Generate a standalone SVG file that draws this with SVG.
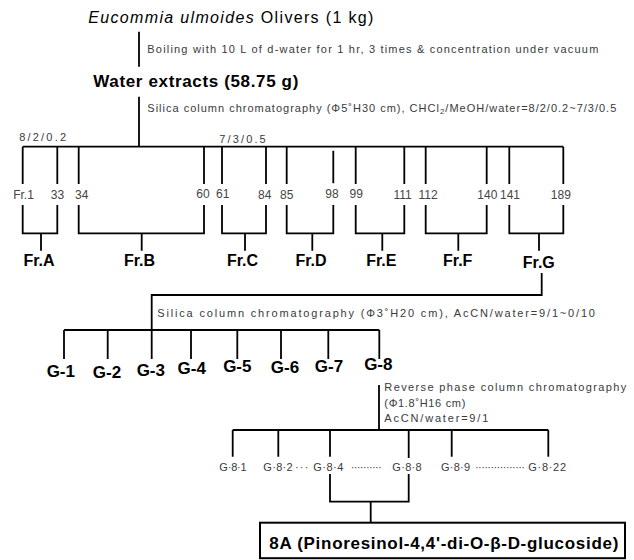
<svg xmlns="http://www.w3.org/2000/svg" width="634" height="560" viewBox="0 0 634 560">
<style>
.ln{fill:none;stroke:#000;stroke-width:1.8;stroke-linecap:butt}
.sm{font-family:"Liberation Sans",Arial,sans-serif;font-size:11px;fill:#3a3a3a}
.num{font-family:"Liberation Sans",Arial,sans-serif;font-size:12px;fill:#444;text-anchor:middle}
.big{font-family:"Liberation Sans",Arial,sans-serif;font-size:17px;font-weight:bold;fill:#000}
.fr{font-family:"Liberation Sans",Arial,sans-serif;font-size:16px;font-weight:bold;fill:#000;text-anchor:middle}
.g{font-family:"Liberation Sans",Arial,sans-serif;font-size:17px;font-weight:bold;fill:#000;text-anchor:middle}
</style>
<rect width="634" height="560" fill="#fff"/>
<g id="connectors" class="ln">
<path d="M139,31.7V66.7M139,96.7V146.7M22.7,146.7H563.3"/>
<path d="M22.7,146.7V184M57.3,146.7V184M78.7,146.7V184M204,146.7V184M222,146.7V184M266,146.7V184M286.7,146.7V184M333.3,150.7V183.3M355.7,146.7V184M404.3,146.7V184M425.7,146.7V184M486.7,146.7V184M509.3,146.7V184M563.3,146.7V184"/>
<path d="M22.7,205V233.3H57.3V205M41,233.3V250.7"/>
<path d="M78.7,205V233.3H204V205M141.7,233.3V250.7"/>
<path d="M222,205V233.3H266V205M245,233.3V250.7"/>
<path d="M286.7,205V233.3H333.3V205M312.3,233.3V250.7"/>
<path d="M355.7,205V233.3H404.3V205M382.3,233.3V250.7"/>
<path d="M425.7,205V233.3H486.7V205M458.3,233.3V250.7"/>
<path d="M509.3,205V233.3H563.3V205M539,233.3V250.7"/>
<path d="M541.7,273V295H151.7V359"/>
<path d="M64,330H379.3M64,330V359M107.7,330V359M191,330V359M237.3,330V359M281,330V359M328.3,330V359M379.3,330V359"/>
<path d="M379,385V430M232.7,430H548.3M232.7,430V456.7M278.3,430V456.7M330,430V456.7M408.7,430V458M451.7,430V456.7M548.3,430V456.7"/>
<path d="M330,474V501.7H408.7V474M370.7,501.7V522.7"/>
</g>
<g id="n-eucommia"><text x="88.3" y="22.7" font-family="Liberation Sans, Arial, sans-serif" font-size="16" textLength="285" lengthAdjust="spacing"><tspan font-style="italic">Eucommia ulmoides</tspan> Olivers (1 kg)</text></g>
<g id="s-boil"><text class="sm" x="147.3" y="52.5" textLength="451" lengthAdjust="spacing">Boiling with 10 L of d-water for 1 hr, 3 times &amp; concentration under vacuum</text></g>
<g id="n-water"><text class="big" x="93.3" y="87.3" textLength="205" lengthAdjust="spacing">Water extracts (58.75 g)</text></g>
<g id="s-silica1"><text class="sm" x="147.3" y="111.5" textLength="469" lengthAdjust="spacing">Silica column chromatography (Φ5˚H30 cm), CHCl<tspan font-size="8" dy="2">2</tspan><tspan dy="-2">/MeOH/water=8/2/0.2~7/3/0.5</tspan></text></g>
<g id="s-ratio"><text class="sm" x="19.3" y="140.7" font-size="12" textLength="46.7" lengthAdjust="spacing">8/2/0.2</text><text class="sm" x="219.3" y="143" font-size="12" textLength="46.4" lengthAdjust="spacing">7/3/0.5</text></g>
<g id="n-fractions">
<text class="num" x="23.5" y="198.5">Fr.1</text><text class="num" x="57.5" y="199.3">33</text><text class="num" x="81.7" y="199.3">34</text><text class="num" x="203" y="197.7">60</text><text class="num" x="222.7" y="197.7">61</text><text class="num" x="264.7" y="198.5">84</text><text class="num" x="286.7" y="198.5">85</text><text class="num" x="332" y="197.7">98</text><text class="num" x="356.3" y="197.7">99</text><text class="num" x="402.5" y="198.5">111</text><text class="num" x="428" y="198.5">112</text><text class="num" x="487.3" y="199.3">140</text><text class="num" x="510" y="198.5">141</text><text class="num" x="560.8" y="198.5">189</text>
</g>
<g id="n-frA"><text class="fr" x="39" y="266">Fr.A</text></g>
<g id="n-frB"><text class="fr" x="139.5" y="266">Fr.B</text></g>
<g id="n-frC"><text class="fr" x="242.5" y="266">Fr.C</text></g>
<g id="n-frD"><text class="fr" x="311" y="266">Fr.D</text></g>
<g id="n-frE"><text class="fr" x="381.3" y="266">Fr.E</text></g>
<g id="n-frF"><text class="fr" x="457.7" y="266">Fr.F</text></g>
<g id="n-frG"><text class="fr" x="538.8" y="268">Fr.G</text></g>
<g id="s-silica2"><text class="sm" x="157.3" y="316.7" textLength="437.7" lengthAdjust="spacing">Silica column chromatography (Φ3˚H20 cm), AcCN/water=9/1~0/10</text></g>
<g id="n-g1"><text class="g" x="60.8" y="376.7">G-1</text></g>
<g id="n-g2"><text class="g" x="107" y="378">G-2</text></g>
<g id="n-g3"><text class="g" x="150.8" y="376">G-3</text></g>
<g id="n-g4"><text class="g" x="191.7" y="374">G-4</text></g>
<g id="n-g5"><text class="g" x="237.3" y="372">G-5</text></g>
<g id="n-g6"><text class="g" x="285" y="373">G-6</text></g>
<g id="n-g7"><text class="g" x="329" y="372">G-7</text></g>
<g id="n-g8"><text class="g" x="378.3" y="370">G-8</text></g>
<g id="s-reverse"><text class="sm" x="384.3" y="390.5" textLength="242" lengthAdjust="spacing">Reverse phase column chromatography</text><text class="sm" x="384.3" y="406.5" textLength="81" lengthAdjust="spacing">(Φ1.8˚H16 cm)</text><text class="sm" x="384.3" y="422" textLength="104" lengthAdjust="spacing">AcCN/water=9/1</text></g>
<g id="n-g8sub">
<text class="sm" x="219.3" y="470.7" textLength="27.4" lengthAdjust="spacing">G·8·1</text>
<text class="sm" x="263.3" y="470.7" textLength="29.4" lengthAdjust="spacing">G·8·2</text>
<text class="sm" x="295" y="470.7" textLength="13.3" lengthAdjust="spacing">···</text>
<text class="sm" x="313.3" y="470.7" textLength="30" lengthAdjust="spacing">G·8·4</text>
<text class="sm" x="350.7" y="470.7" textLength="31" lengthAdjust="spacing">··········</text>
<text class="sm" x="392.3" y="470.7" textLength="29.4" lengthAdjust="spacing">G·8·8</text>
<text class="sm" x="441" y="470.7" textLength="29" lengthAdjust="spacing">G·8·9</text>
<text class="sm" x="475" y="470.7" textLength="50" lengthAdjust="spacing">················</text>
<text class="sm" x="528.3" y="470.7" textLength="37.7" lengthAdjust="spacing">G·8·22</text>
</g>
<g id="n-8A"><rect x="260" y="522.7" width="365" height="35.5" fill="#fff" stroke="#000" stroke-width="2"/><text class="big" x="269.3" y="549.3" font-size="18" textLength="349" lengthAdjust="spacing">8A (Pinoresinol-4,4'-di-O-β-D-glucoside)</text></g>
</svg>
